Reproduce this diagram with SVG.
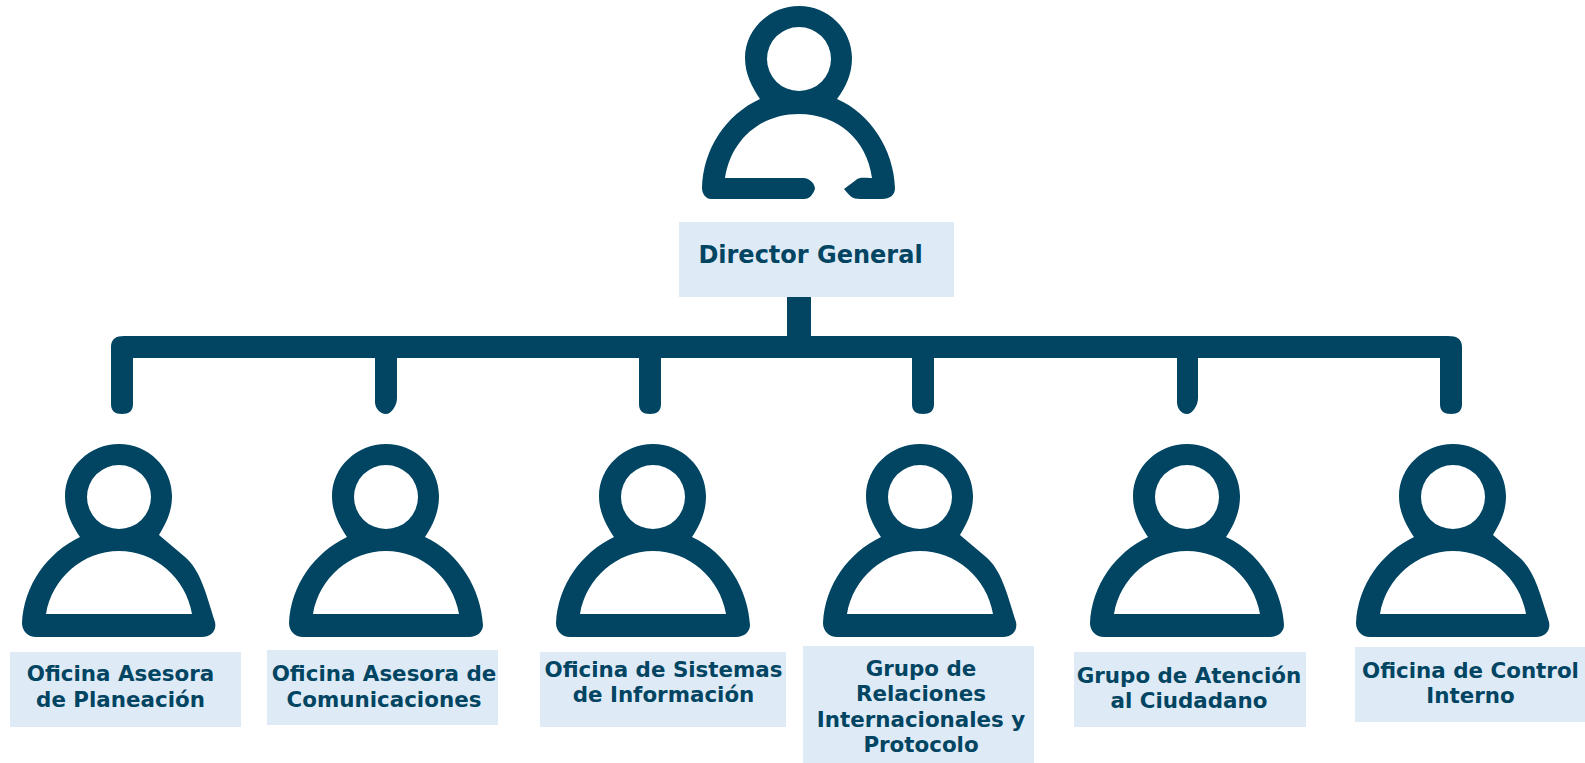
<svg xmlns="http://www.w3.org/2000/svg" width="1585" height="763" viewBox="0 0 1585 763">
<style>
.ic{fill:#014562;fill-rule:evenodd}
.bx{fill:#deeaf6}
text{font-family:"DejaVu Sans","Liberation Sans",sans-serif;font-weight:700;font-size:21.4px;fill:#014562;text-anchor:middle}
.big{font-size:24px}
</style>
<defs>
<path id="pa" class="ic" d="M80,537C72,525 65,512 65,496C65,467 90,444 119,444C148,444 172,467 172,496C172,512 166,523 159,535L185,557C200,570 205,590 215,622C217,632 210,637 202,637L36,637C28,637 22,631 22,623C24,585 47,553 80,537ZM119,465A32,32 0 0 0 119,529A32,32 0 0 0 119,465ZM46,614L192,614C186,578 155,551 119,551C83,551 52,578 46,614Z"/>
<path id="ps" class="ic" d="M80,537C72,525 65,512 65,496C65,467 90,444 119,444C148,444 172,467 172,496C172,512 166,525 158,537C193,553 214,590 216,625C216,632 210,637 202,637L36,637C28,637 22,631 22,623C24,585 47,553 80,537ZM119,465A32,32 0 0 0 119,529A32,32 0 0 0 119,465ZM46,614L192,614C186,578 155,551 119,551C83,551 52,578 46,614Z"/>
</defs>
<g id="connectors">
<path class="ic" d="M787,297L811,297L811,336L1448,336C1457,336 1462,339 1462,347L1462,404C1462,411 1458,414 1451,414C1444,414 1440,411 1440,404L1440,358L1198,358L1198,398C1198,406 1192,414 1187,414C1181,414 1177,408 1177,402L1177,358L934,358L934,404C934,411 930,414 923,414C916,414 912,411 912,404L912,358L661,358L661,404C661,411 657,414 650,414C643,414 639,411 639,404L639,358L397,358L397,398C397,406 391,414 386,414C380,414 375,408 375,402L375,358L133,358L133,404C133,411 129,414 122,414C115,414 111,411 111,404L111,347C111,339 116,336 124,336L787,336Z"/>
</g>
<g id="node-director">
<path class="ic" d="M760,99C752,87 745,74 745,58C745,29 770,6 799,6C828,6 852,29 852,58C852,74 846,87 837,99C870,113 894,150 895,188C895,195 890,199 882,199L860,199C852,199 850,196 844,189L856,180C860,177 862,178 872,178C867,140 838,114 799,114C760,114 731,140 725,178L803,178C810,178 815,184 815,189C813,194 810,199 804,199L711,199C706,199 702,194 702,188C703,150 725,115 760,99ZM799,27A32,32 0 0 0 799,91A32,32 0 0 0 799,27Z"/>
<rect class="bx" x="679" y="222" width="275" height="75"/>
<text class="big" x="810.5" y="263">Director General</text>
</g>
<g id="node-planeacion">
<use href="#pa"/>
<rect class="bx" x="10" y="652" width="231" height="75"/>
<text x="120.5" y="681">Oficina Asesora</text>
<text x="120.5" y="707">de Planeación</text>
</g>
<g id="node-comunicaciones">
<use href="#ps" x="267"/>
<rect class="bx" x="267" y="650" width="231" height="75"/>
<text x="384" y="681">Oficina Asesora de</text>
<text x="384" y="707">Comunicaciones</text>
</g>
<g id="node-sistemas">
<use href="#ps" x="534"/>
<rect class="bx" x="540" y="652" width="246" height="75"/>
<text x="663.5" y="677">Oficina de Sistemas</text>
<text x="663.5" y="702">de Información</text>
</g>
<g id="node-relaciones">
<use href="#pa" x="801"/>
<rect class="bx" x="803" y="646" width="231" height="117"/>
<text x="921" y="676">Grupo de</text>
<text x="921" y="701">Relaciones</text>
<text x="921" y="727">Internacionales y</text>
<text x="921" y="752">Protocolo</text>
</g>
<g id="node-atencion">
<use href="#ps" x="1068"/>
<rect class="bx" x="1074" y="652" width="232" height="75"/>
<text x="1189" y="683">Grupo de Atención</text>
<text x="1189" y="708">al Ciudadano</text>
</g>
<g id="node-control">
<use href="#pa" x="1334"/>
<rect class="bx" x="1355" y="647" width="230" height="75"/>
<text x="1470.5" y="678">Oficina de Control</text>
<text x="1470.5" y="703">Interno</text>
</g>
</svg>
